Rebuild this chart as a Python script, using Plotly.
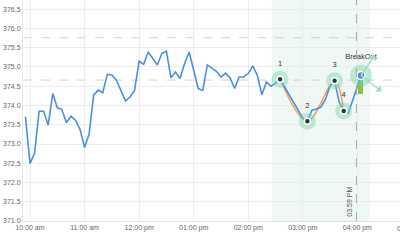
import pandas as pd
import plotly.graph_objects as go

DAY = "2024-01-02 "

# ---- data ----
price_times = [t.strftime("%H:%M") for t in pd.date_range(DAY + "09:55", DAY + "16:00", freq="5min")] + ["16:04"]
price_values = [
    373.71, 372.49, 372.76, 373.85, 373.85, 373.49, 374.31, 373.94, 373.90, 373.55,
    373.72, 373.62, 373.38, 372.91, 373.26, 374.27, 374.40, 374.33, 374.81, 374.79,
    374.66, 374.40, 374.12, 374.22, 374.40, 375.15, 375.07, 375.39, 375.23, 375.05,
    375.35, 375.41, 374.72, 374.87, 374.70, 375.09, 375.39, 374.92, 374.44, 374.39,
    375.05, 374.97, 374.89, 374.74, 374.84, 374.72, 374.44, 374.74, 374.74, 374.83,
    375.03, 374.78, 374.28, 374.61, 374.50, 374.58, 374.68, 374.48, 374.27, 374.06,
    373.85, 373.67, 373.59, 373.88, 373.91, 373.96, 374.17, 374.50, 374.64, 374.09,
    373.86, 373.80, 374.14, 374.50, 374.78,
]

pattern_times = ["14:35", "15:05", "15:35", "15:45"]
pattern_values = [374.68, 373.59, 374.64, 373.86]
pattern_labels = ["1", "2", "3", "4"]

breakout_time = "16:04"
breakout_value = 374.78
breakout_label = "BreakOut"
breakout_bar_base = 374.30
breakout_bar_top = 374.69

level_lines = [375.76, 374.66]
zone_start, zone_end = "14:26", "16:14"
marker_time = "15:59"
marker_label = "03:59 PM"

tick_times = ["10:00", "11:00", "12:00", "13:00", "14:00", "15:00", "16:00"]
tick_labels = ["10:00 am", "11:00 am", "12:00 pm", "01:00 pm", "02:00 pm", "03:00 pm", "04:00 pm"]
extra_tick_label = "05:00 pm"

x_range = ["09:52:18", "16:46:54"]
y_range = [371.0, 376.74]


def ts(s):
    return DAY + s


FONT = "Liberation Sans, Arial, sans-serif"
BLUE = "#4a90e2"
ORANGE = "#f5a04c"
HALO = "rgba(120, 214, 170, 0.45)"

fig = go.Figure()

# shaded pattern zone
fig.add_vrect(x0=ts(zone_start), x1=ts(zone_end), fillcolor="#e6f5f0", opacity=0.65,
              line_width=0, layer="below")

# level lines
for lv in level_lines:
    fig.add_hline(y=lv, line=dict(color="#d0d0d0", width=1, dash="dash"), layer="below")

# vertical marker line
fig.add_vline(x=ts(marker_time), line=dict(color="#aaaaaa", width=1, dash="dash"))

# orange pattern curve
fig.add_trace(go.Scatter(
    x=[ts(t) for t in pattern_times], y=pattern_values, mode="lines",
    line=dict(color=ORANGE, width=1.5, shape="spline", smoothing=1.0),
    hoverinfo="skip", showlegend=False))

# price line
fig.add_trace(go.Scatter(
    x=[ts(t) for t in price_times], y=price_values, mode="lines",
    line=dict(color=BLUE, width=1.6), showlegend=False))

# breakout bar
fig.add_trace(go.Bar(
    x=[ts(breakout_time)], y=[breakout_bar_top - breakout_bar_base], base=[breakout_bar_base],
    width=5.5 * 60 * 1000, marker=dict(color="#86c440", line_width=0), showlegend=False))

# halos with labels
fig.add_trace(go.Scatter(
    x=[ts(t) for t in pattern_times], y=pattern_values, mode="markers+text",
    text=pattern_labels, textposition="top center",
    textfont=dict(family=FONT, size=7.5, color="#333"),
    marker=dict(size=17, color=HALO, line_width=0), showlegend=False))
fig.add_trace(go.Scatter(
    x=[ts(breakout_time)], y=[breakout_value], mode="markers+text",
    text=[breakout_label], textposition="top center",
    textfont=dict(family=FONT, size=7.5, color="#333"),
    marker=dict(size=22, color=HALO, line_width=0), showlegend=False))

# inner dots
fig.add_trace(go.Scatter(
    x=[ts(t) for t in pattern_times], y=pattern_values, mode="markers",
    marker=dict(size=6, color="#333333", line=dict(color="white", width=1.5)), showlegend=False))
fig.add_trace(go.Scatter(
    x=[ts(breakout_time)], y=[breakout_value], mode="markers",
    marker=dict(size=8, color=BLUE, line=dict(color="white", width=1.5)), showlegend=False))

# breakout arrows
for dx, dy in [(15, -22), (22, 17)]:
    fig.add_annotation(x=ts(breakout_time), y=breakout_value, ax=dx, ay=dy, text="",
                       showarrow=True, arrowside="start", arrowhead=2, arrowsize=1,
                       arrowwidth=1.5, arrowcolor="#9fe0c4", startstandoff=0, standoff=0)

# vertical marker label
fig.add_annotation(x=ts(marker_time), y=371.5, text=marker_label, textangle=-90, showarrow=False,
                   xanchor="right", xshift=-1, font=dict(family=FONT, size=7, color="#555"))

# partially visible next tick label
fig.add_annotation(x=1.0316, xref="paper", y=0, yref="paper", xanchor="center", yanchor="top",
                   yshift=-2, text=extra_tick_label, showarrow=False,
                   font=dict(family=FONT, size=7, color="#666"))

fig.update_layout(
    width=400, height=242,
    margin=dict(l=23, r=0, t=0, b=21),
    plot_bgcolor="white", paper_bgcolor="white",
    showlegend=False, bargap=0,
    font=dict(family=FONT, size=7, color="#666"),
    xaxis=dict(range=[ts(x_range[0]), ts(x_range[1])], tickvals=[ts(t) for t in tick_times],
               ticktext=tick_labels, showgrid=True, gridcolor="#ececec", gridwidth=1,
               showline=True, linecolor="#e0e0e0", zeroline=False, ticks="",
               tickfont=dict(family=FONT, size=7, color="#666")),
    yaxis=dict(range=y_range, dtick=0.5, tick0=371.0, tickformat=".1f", showgrid=True,
               gridcolor="#ececec", gridwidth=1, showline=True, linecolor="#e6e6e6",
               zeroline=False, ticks="", tickfont=dict(family=FONT, size=7, color="#666")),
)

fig.write_html("out.html")
